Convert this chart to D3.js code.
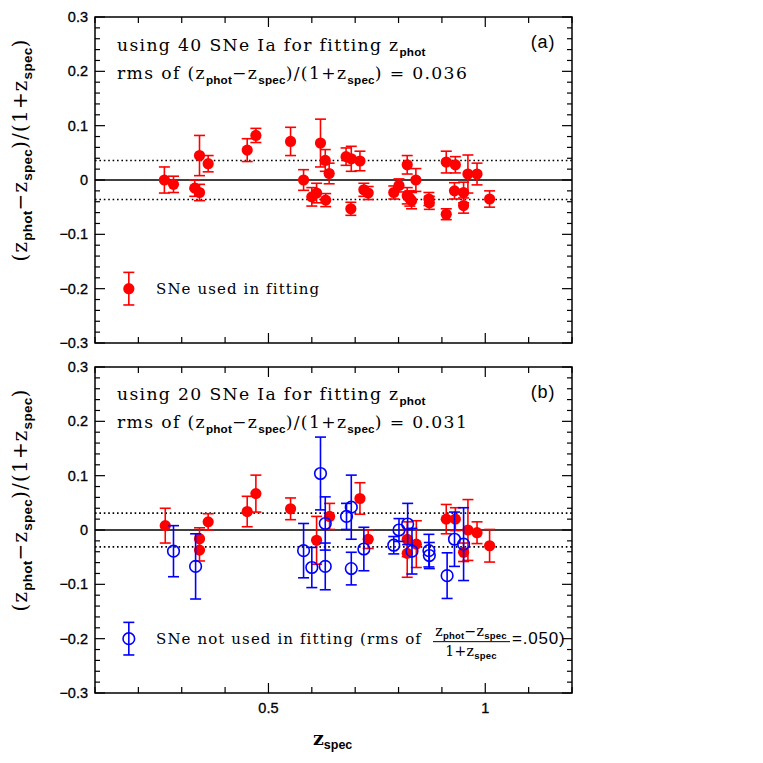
<!DOCTYPE html>
<html><head><meta charset="utf-8">
<script src="https://cdn.jsdelivr.net/npm/d3@7/dist/d3.min.js"></script>
<style>body{margin:0;background:#fff}svg{display:block}</style>
</head><body>
<svg id="c" width="763" height="763"></svg>
<script>
// ---- data ----
// Panel (a): 40 SNe used in fitting
const aZ   = [0.260,0.281,0.330,0.341,0.341,0.361,0.451,0.471,0.551,0.581,0.600,0.611,0.620,0.631,0.632,0.640,0.679,0.690,0.691,0.711,0.720,0.730,0.789,0.801,0.820,0.820,0.830,0.826,0.840,0.870,0.871,0.910,0.910,0.931,0.929,0.950,0.950,0.960,0.981,1.010];
const aD   = [0.000,-0.008,-0.015,0.045,-0.023,0.030,0.055,0.082,0.071,0.000,-0.031,-0.024,0.068,0.036,-0.037,0.012,0.043,-0.053,0.039,0.035,-0.018,-0.024,-0.023,-0.010,0.028,-0.029,-0.038,-0.034,0.000,-0.035,-0.042,-0.063,0.033,0.028,-0.020,-0.023,-0.047,0.011,0.011,-0.035];
const aE   = [0.024,0.015,0.015,0.037,0.015,0.015,0.021,0.013,0.026,0.019,0.017,0.018,0.044,0.020,0.012,0.019,0.016,0.012,0.023,0.018,0.012,0.012,0.012,0.012,0.017,0.015,0.015,0.014,0.021,0.012,0.012,0.010,0.020,0.015,0.015,0.019,0.014,0.035,0.020,0.015];
// Panel (b): 20 SNe used in fitting (red) and 20 not used (blue)
const bUsedZ = [0.262,0.341,0.341,0.361,0.451,0.471,0.551,0.611,0.641,0.711,0.730,0.820,0.820,0.841,0.910,0.931,0.950,0.960,0.981,1.010];
const bUsedD = [0.008,-0.016,-0.037,0.015,0.034,0.067,0.039,-0.019,0.025,0.058,-0.017,-0.017,-0.043,-0.026,0.020,0.020,-0.041,0.000,-0.005,-0.029];
const bUsedE = [0.032,0.020,0.020,0.015,0.028,0.034,0.020,0.044,0.024,0.029,0.017,0.032,0.044,0.043,0.027,0.021,0.017,0.056,0.020,0.030];
const bNotZ  = [0.281,0.332,0.581,0.600,0.620,0.631,0.631,0.680,0.691,0.691,0.720,0.789,0.801,0.821,0.831,0.870,0.871,0.912,0.929,0.950];
const bNotD  = [-0.039,-0.067,-0.038,-0.069,0.104,0.012,-0.067,0.025,0.042,-0.071,-0.035,-0.028,0.000,0.011,-0.039,-0.038,-0.047,-0.084,-0.017,-0.026];
const bNotE  = [0.047,0.060,0.050,0.037,0.067,0.049,0.043,0.024,0.059,0.030,0.040,0.016,0.021,0.038,0.042,0.030,0.024,0.042,0.050,0.067];
const rmsA = 0.036, rmsB = 0.031;
const xTicks = [0.1,0.2,0.3,0.4,0.5,0.6,0.7,0.8,0.9,1.0,1.1,1.2];
const xLabels = [{v:0.5,t:"0.5"},{v:1.0,t:"1"}];
const yTickLabels = [{v:0.3,t:"0.3"},{v:0.2,t:"0.2"},{v:0.1,t:"0.1"},{v:0,t:"0"},{v:-0.1,t:"\u22120.1"},{v:-0.2,t:"\u22120.2"},{v:-0.3,t:"\u22120.3"}];
const legendPt = {z:0.178, d:-0.2, e:0.03};

// ---- layout ----
const svg = d3.select("#c");
const L = 95, R = 572;
const x = d3.scaleLinear().domain([0.1,1.2]).range([L,R]);
const panels = [
  {top:17, bot:343, id:"a"},
  {top:367, bot:693, id:"b"}
];
const serif = "'DejaVu Serif', serif";
const sans = "'Liberation Sans', Arial, sans-serif";

function richText(g, px, py, segs, opts={}) {
  const size = opts.size||15;
  const t = g.append("text").attr("x",px).attr("y",py)
    .attr("font-family",serif).attr("font-size",size)
    .attr("letter-spacing",opts.ls!=null?opts.ls:1.1)
    .attr("text-anchor",opts.anchor||"start").attr("fill","#000");
  if (opts.transform) t.attr("transform",opts.transform);
  let shift = 0;
  const down = size*0.27;
  segs.forEach(s=>{
    const sp = t.append("tspan").text(s.t);
    if (s.sub) {
      sp.attr("font-family",sans).attr("font-weight","bold").attr("font-size",size*0.68).attr("letter-spacing",0.2);
      sp.attr("dy", down - shift); shift = down;
    } else {
      if (shift) { sp.attr("dy", -shift); shift = 0; }
      if (s.font) sp.attr("font-family",s.font);
      if (s.size) sp.attr("font-size",s.size);
    }
  });
  return t;
}

panels.forEach(p=>{
  const y = d3.scaleLinear().domain([-0.3,0.3]).range([p.bot,p.top]);
  p.y = y;
  const g = svg.append("g");
  p.g = g;
  const rms = p.id==="a"?rmsA:rmsB;
  g.append("line").attr("x1",L).attr("x2",R).attr("y1",y(0)).attr("y2",y(0)).attr("stroke","#000").attr("stroke-width",1.3);
  [rms,-rms].forEach(v=>{
    g.append("line").attr("x1",L).attr("x2",R).attr("y1",y(v)).attr("y2",y(v))
      .attr("stroke","#000").attr("stroke-width",1.6).attr("stroke-dasharray","1.6,2.8");
  });
  xTicks.forEach(v=>{
    const major = Math.abs(v-0.5)<1e-6 || Math.abs(v-1.0)<1e-6;
    const len = major?10:6;
    g.append("line").attr("x1",x(v)).attr("x2",x(v)).attr("y1",p.bot).attr("y2",p.bot-len).attr("stroke","#000").attr("stroke-width",1.2);
    g.append("line").attr("x1",x(v)).attr("x2",x(v)).attr("y1",p.top).attr("y2",p.top+len).attr("stroke","#000").attr("stroke-width",1.2);
  });
  d3.range(-15,16).forEach(i=>{
    const v = i*0.02;
    const major = i%5===0;
    const len = major?10:5;
    g.append("line").attr("x1",L).attr("x2",L+len).attr("y1",y(v)).attr("y2",y(v)).attr("stroke","#000").attr("stroke-width",1.2);
    g.append("line").attr("x1",R).attr("x2",R-len).attr("y1",y(v)).attr("y2",y(v)).attr("stroke","#000").attr("stroke-width",1.2);
  });
  yTickLabels.forEach(d=>{
    g.append("text").attr("x",88).attr("y",y(d.v)+5).attr("text-anchor","end")
      .attr("font-family",sans).attr("font-size",14.5).attr("stroke","#000").attr("stroke-width",0.3).text(d.t);
  });
  g.append("rect").attr("x",L).attr("y",p.top).attr("width",R-L).attr("height",p.bot-p.top)
    .attr("fill","none").attr("stroke","#000").attr("stroke-width",1.5);
  const cy = p.top+133;
  richText(g, 0, 0, [{t:"(z"},{t:"phot",sub:true},{t:"\u2212z"},{t:"spec",sub:true},{t:")/(1+z"},{t:"spec",sub:true},{t:")"}],
    {size:20, anchor:"middle", ls:1.2, transform:`translate(27,${cy}) rotate(-90)`});
  g.append("text").attr("x",543).attr("y",p.top+31).attr("text-anchor","middle").attr("font-family",sans).attr("font-size",18)
    .attr("letter-spacing",0.8).text(`(${p.id})`);
});

function drawSet(g, y, Z, D, E, color, filled) {
  const grp = g.append("g");
  Z.forEach((z,i)=>{
    const cx = x(z), y1 = y(D[i]+E[i]), y2 = y(D[i]-E[i]);
    grp.append("line").attr("x1",cx).attr("x2",cx).attr("y1",y1).attr("y2",y2).attr("stroke",color).attr("stroke-width",1.6);
    [y1,y2].forEach(yy=>grp.append("line").attr("x1",cx-5.5).attr("x2",cx+5.5).attr("y1",yy).attr("y2",yy).attr("stroke",color).attr("stroke-width",1.6));
  });
  Z.forEach((z,i)=>{
    grp.append("circle").attr("cx",x(z)).attr("cy",y(D[i])).attr("r",filled?5.6:5.8)
      .attr("fill",filled?color:"none").attr("stroke",color).attr("stroke-width",filled?0:1.6);
  });
}
const RED = "#ff0000", BLUE = "#0000ff";
const pa = panels[0], pb = panels[1];
drawSet(pa.g, pa.y, aZ, aD, aE, RED, true);
drawSet(pb.g, pb.y, bUsedZ, bUsedD, bUsedE, RED, true);
drawSet(pb.g, pb.y, bNotZ, bNotD, bNotE, BLUE, false);
drawSet(pa.g, pa.y, [legendPt.z],[legendPt.d],[legendPt.e], RED, true);
drawSet(pb.g, pb.y, [legendPt.z],[legendPt.d],[legendPt.e], BLUE, false);

const TS = 17.2, TLS = 1.35;
richText(pa.g, 117, 51, [{t:"using 40 SNe Ia for fitting z"},{t:"phot",sub:true}], {size:TS, ls:TLS});
richText(pa.g, 117, 79, [{t:"rms of (z"},{t:"phot",sub:true},{t:"\u2212z"},{t:"spec",sub:true},{t:")/(1+z"},{t:"spec",sub:true},{t:") = 0.036"}], {size:TS, ls:TLS});
richText(pa.g, 156, pa.y(-0.2)+5, [{t:"SNe used in fitting"}]);
richText(pb.g, 117, 400, [{t:"using 20 SNe Ia for fitting z"},{t:"phot",sub:true}], {size:TS, ls:TLS});
richText(pb.g, 117, 428, [{t:"rms of (z"},{t:"phot",sub:true},{t:"\u2212z"},{t:"spec",sub:true},{t:")/(1+z"},{t:"spec",sub:true},{t:") = 0.031"}], {size:TS, ls:TLS});
const ly = pb.y(-0.2)+5;
richText(pb.g, 156, ly, [{t:"SNe not used in fitting (rms of"}]);
richText(pb.g, 471, ly-8, [{t:"z"},{t:"phot",sub:true},{t:"\u2212z"},{t:"spec",sub:true}], {size:14, anchor:"middle", ls:0.4});
pb.g.append("line").attr("x1",433).attr("x2",510).attr("y1",ly-2).attr("y2",ly-2).attr("stroke","#000").attr("stroke-width",1);
richText(pb.g, 471, ly+12, [{t:"1+z"},{t:"spec",sub:true}], {size:14, anchor:"middle", ls:0.4});
richText(pb.g, 512, ly, [{t:"=.050)", font:sans, size:17}], {ls:0.8});

xLabels.forEach(d=>{
  svg.append("text").attr("x",x(d.v)).attr("y",713).attr("text-anchor","middle").attr("font-family",sans)
    .attr("font-size",14.5).attr("stroke","#000").attr("stroke-width",0.3).text(d.t);
});
const xl = svg.append("text").attr("x",313).attr("y",745).attr("font-family",serif).attr("font-weight","bold").attr("font-size",19);
xl.append("tspan").text("z");
xl.append("tspan").attr("dy",4).attr("font-family",sans).attr("font-size",12.5).attr("font-weight","bold").text("spec");
</script>
</body></html>
